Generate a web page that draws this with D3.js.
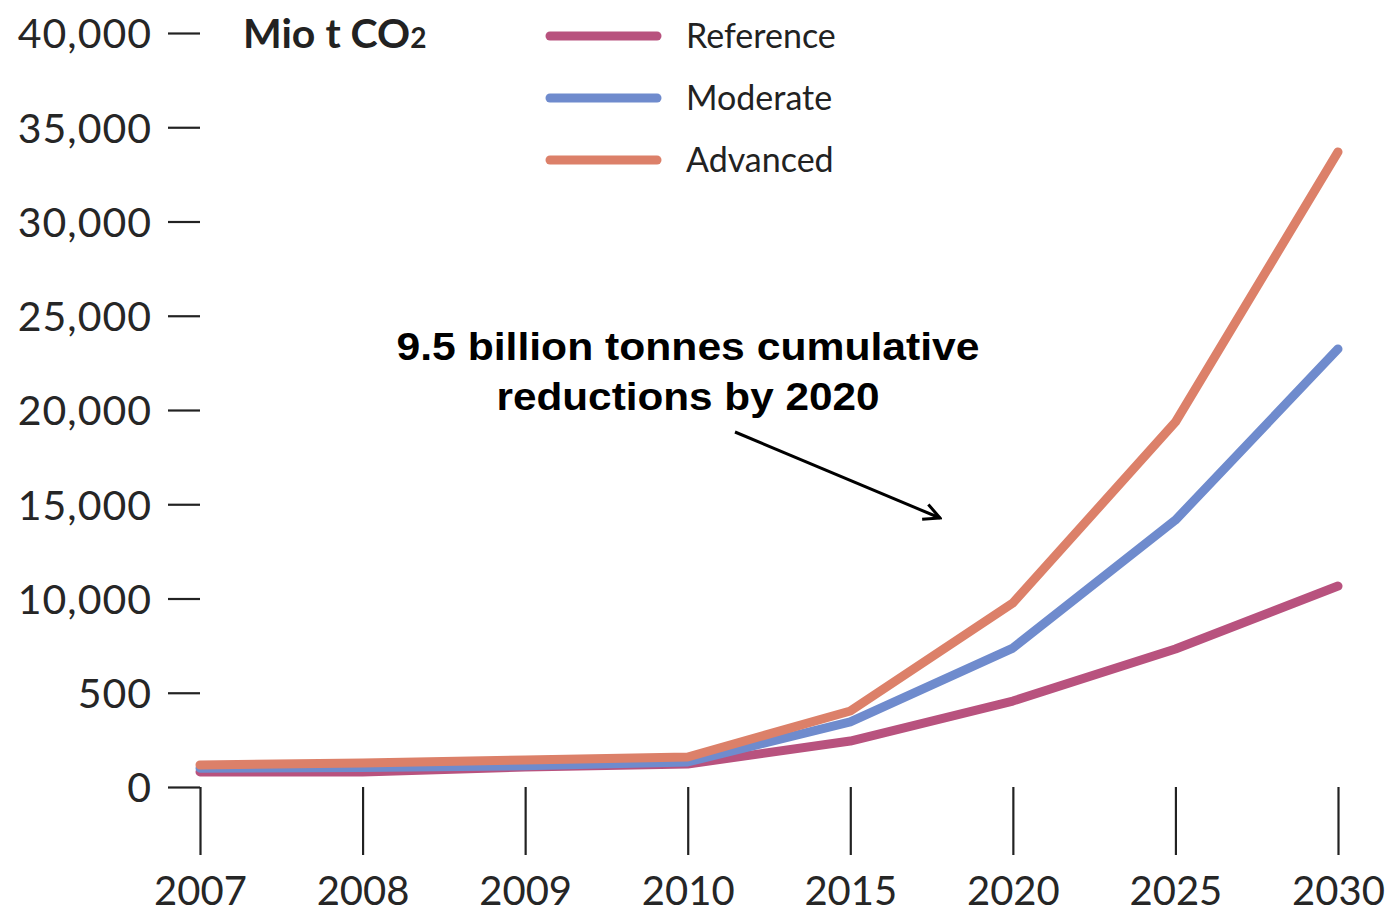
<!DOCTYPE html>
<html>
<head>
<meta charset="utf-8">
<script src="https://cdn.jsdelivr.net/npm/d3@7"></script>
<style>
  body { margin: 0; background: #fff; }
  .axis text { font-family: Lato, "Open Sans", sans-serif; fill: #262626; }
  .axis line { stroke: #222; stroke-width: 2.2; }
</style>
</head>
<body>
<div id="chart"></div>
<script>
// Chart data
var years = ["2007", "2008", "2009", "2010", "2015", "2020", "2025", "2030"];
var reference = [800, 800, 1060, 1220, 2440, 4560, 7320, 10660];
var moderate = [1000, 1030, 1130, 1330, 3450, 7370, 14160, 23240];
var advanced = [1170, 1270, 1430, 1590, 4030, 9760, 19360, 33690];
var seriesNames = ["Reference", "Moderate", "Advanced"];
var yTickValues = [0, 5000, 10000, 15000, 20000, 25000, 30000, 35000, 40000];
var yTickLabels = ["0", "500", "10,000", "15,000", "20,000", "25,000", "30,000", "35,000", "40,000"];

var colors = ["#b8527e", "#6f8bcd", "#dc8069"];

var svgWidth = 1395;
var svgHeight = 913;

var svg = d3.select("#chart")
  .append("svg")
  .attr("width", svgWidth)
  .attr("height", svgHeight);

// Scales
var xScale = d3.scalePoint()
  .domain(years)
  .range([200, 1338]);

var yScale = d3.scaleLinear()
  .domain([0, 40000])
  .range([787, 33]);

// Y axis (dashes to the left of the plot)
var leftAxis = d3.axisLeft(yScale)
  .tickValues(yTickValues)
  .tickFormat((d, i) => yTickLabels[i])
  .tickSize(32)
  .tickPadding(16);

var yGroup = svg.append("g")
  .classed("axis", true)
  .attr("transform", "translate(200,0)")
  .call(leftAxis);
yGroup.select(".domain").remove();
yGroup.selectAll("text")
  .attr("font-size", 41)
  .attr("letter-spacing", 1)
  .attr("dy", "0.36em");

// X axis (vertical ticks below zero)
var bottomAxis = d3.axisBottom(xScale)
  .tickSize(68);

var xGroup = svg.append("g")
  .classed("axis", true)
  .attr("transform", "translate(0,787)")
  .call(bottomAxis);
xGroup.select(".domain").remove();
xGroup.selectAll("text")
  .attr("font-size", 40)
  .attr("y", 118)
  .attr("dy", 0);

// Lines
var drawLine = d3.line()
  .x((d, i) => xScale(years[i]))
  .y(d => yScale(d));

var allSeries = [reference, moderate, advanced];

svg.append("g")
  .selectAll("path")
  .data(allSeries)
  .join("path")
  .attr("d", d => drawLine(d))
  .attr("fill", "none")
  .attr("stroke", (d, i) => colors[i])
  .attr("stroke-width", 9)
  .attr("stroke-linecap", "round")
  .attr("stroke-linejoin", "round");

// Unit label
var unit = svg.append("text")
  .attr("x", 243)
  .attr("y", 48)
  .attr("font-family", "Lato, sans-serif")
  .attr("font-weight", "bold")
  .attr("font-size", 41)
  .attr("fill", "#222");
unit.append("tspan").text("Mio t CO");
unit.append("tspan").attr("font-size", 28).text("2");

// Legend
var legend = svg.append("g")
  .selectAll("g")
  .data(seriesNames)
  .join("g")
  .attr("transform", (d, i) => `translate(550, ${36 + i * 62})`);

legend.append("line")
  .attr("x1", 0).attr("x2", 107)
  .attr("stroke", (d, i) => colors[i])
  .attr("stroke-width", 9)
  .attr("stroke-linecap", "round");

legend.append("text")
  .attr("x", 136)
  .attr("dy", "0.36em")
  .attr("font-family", "Lato, sans-serif")
  .attr("font-size", 34)
  .attr("fill", "#222")
  .text(d => d);

// Annotation
var note = svg.append("text")
  .attr("text-anchor", "middle")
  .attr("font-family", "Liberation Sans, Arial, sans-serif")
  .attr("font-weight", "bold")
  .attr("font-size", 39)
  .attr("fill", "#000");
note.append("tspan").attr("x", 688).attr("y", 360)
  .attr("textLength", 583).attr("lengthAdjust", "spacingAndGlyphs")
  .text("9.5 billion tonnes cumulative");
note.append("tspan").attr("x", 688).attr("y", 410)
  .attr("textLength", 383).attr("lengthAdjust", "spacingAndGlyphs")
  .text("reductions by 2020");

svg.append("defs").append("marker")
  .attr("id", "arrow")
  .attr("viewBox", "0 0 20 20")
  .attr("refX", 18).attr("refY", 10)
  .attr("markerWidth", 20).attr("markerHeight", 20)
  .attr("markerUnits", "userSpaceOnUse")
  .attr("orient", "auto")
  .append("path")
  .attr("d", "M2,2 L18,10 L2,18")
  .attr("fill", "none")
  .attr("stroke", "#000")
  .attr("stroke-width", 3);

svg.append("line")
  .attr("x1", 735).attr("y1", 432)
  .attr("x2", 940).attr("y2", 518)
  .attr("stroke", "#000")
  .attr("stroke-width", 3)
  .attr("marker-end", "url(#arrow)");
</script>
</body>
</html>
